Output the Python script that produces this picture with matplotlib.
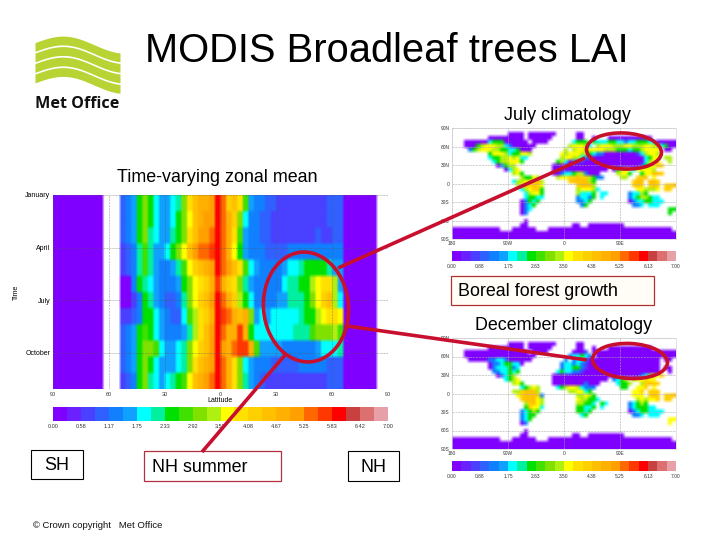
import numpy as np
import matplotlib
matplotlib.use('Agg')
import matplotlib.pyplot as plt
from matplotlib.colors import ListedColormap, BoundaryNorm
from matplotlib.patches import Ellipse, Rectangle

plt.rcParams['font.family'] = ['Liberation Sans', 'DejaVu Sans']

# colour scale of the LAI plots, 24 levels from 0 to 7
level_colors = ['#8000ff', '#6a20ff', '#4a40ff', '#3060ff', '#1080ff', '#10a0ff',
                '#00ffff', '#00f0a0', '#00e000', '#40e000', '#80e000', '#b0f010',
                '#ffff00', '#ffe000', '#ffd000', '#ffc000', '#ffb000', '#ffa000',
                '#ff6800', '#ff3800', '#ff0000', '#c84040', '#dc7070', '#e8a0a8']
level_codes = 'abcdefghijklmnopqrstuvwx'
big_ticks = ['0.00', '0.58', '1.17', '1.75', '2.33', '2.92', '3.50', '4.08', '4.67', '5.25', '5.83', '6.42', '7.00']
map_ticks = ['0.00', '0.88', '1.75', '2.63', '3.50', '4.38', '5.25', '6.13', '7.00']

months = ['January', 'April', 'July', 'October']
lat_ticks = [-90, -60, -30, 0, 30, 60, 90]
lat_labels = ['90', '60', '30', '0', '30', '60', '90']

# zonal mean, one string per month, 3 degree columns from 54S to 66N, coded with level_codes
zonal_rows = [
    'defikigffghknpqqrusopnjfeeddcccccccccddd',
    'defikigffgikmpqrrusqokgeeddccccccccccddd',
    'defikhgffhiknprrsusqnjfeeddccccccccdccdd',
    'cdehjhffgikmprsstusqmifeeeddddeeeeeeeeee',
    'cdehjhfeefhjmopqrusrpnjgfeeeefgghiiiihff',
    'aaeihgfeeefikmnoqtqonkhfeeeeeghhiilmnnlf',
    'aaceihfeddehkmoprusqoligeeeeffhhhikmoplg',
    'ccdeiigfeddgjlnoqutsqpqkfgfggggghiilmnnm',
    'defijigfeeefhlnprusqqtqiggggggghhhjkkklj',
    'defikkjgffghkmoprurqsttqjffffeeeeeefgggh',
    'defikigfffghknpqrusqnkgfeeedddddeeeeedddd',
    'cdeikhgfghijmpqrsusqnkhfedcccccccccccddd',
]

# July and December LAI maps, 4 px cells from 90N down to 90S, blank is ocean
july_map = [
    '',
    '              aaaa aaaaaaa     aa',
    '         aaaaaaaaa aaaaaa      aa  a   aaaaaaaaaaa',
    '   aaaaaagiiiaaaaaa aaaa      giii igggiiggeggiiiggaaaaaa',
    '   aaailmmmllgeaaaaaa        lmmmlg lmmmlllmmlllmmllgiaaa',
    '    eilmmmlliiggiaaa        l lmmlmmmmllliiigiilmmmm aa',
    '         immmlgiimml       mlmmmlligeeaaaaaaaacglmml',
    '         giillmlmgg        lmmllgecaaaaaaaaaaaaagimm ll',
    '          gillmmmi        ilgaeccaaaaaaaaaaaaaaaglmm  l',
    '           aeill         aaaaaaaaaaaaaaaaaaaaaaeimmpo',
    '             aglm        aaaaaaaaaaaaaa ailm gmmmml',
    '               lmi       aaeggilleaaa    lmmi  immppo',
    '                 liiml    lmmoopooliee    ll  oop m',
    '               gllmoopl      oppppli         opp ppo',
    '                lmoopom        opppl         opo opo oop',
    '                 glmooi        lmmmlg         mmlllm oo',
    '                  glmmi        lgggi gg     eggli',
    '                  giigg        eggei g      egilligg',
    '                 aeigi         eegi         aeggiiggg',
    '                 aegi           ei           eeg ggg',
    '                 aeg                                  ii',
    '                 ae                                   i',
    '',
    '                  a',
    '                 aa           aa  aaaaaaaaa',
    'aaaaaaaaaaaa   aaaaaa   aaaaaaaaaaaaaaaaaaaaaaaaaaaaaaa',
    'aaaaaaaaaaaaaaaaaaaaaaaaaaaaaaaaaaaaaaaaaaaaaaaaaaaaaaaa',
    'aaaaaaaaaaaaaaaaaaaaaaaaaaaaaaaaaaaaaaaaaaaaaaaaaaaaaaaa',
]
december_map = [
    '',
    '              aaaa aaaaaaa     aa',
    '         aaaaaaaaa aaaaaa      aa  a   aaaaaaaaaaa',
    '   aaaaaaaaaaaaaaaa aaaa      aaac aaaaaaaaaaaaaaaaaaaaa',
    '   aaaaaaaaaaaaaaaaaa        eggige aaaaaaaaaaaaaaaaaaaaa',
    '    aaaaaeeggeaaaaaa        e eggeaaaaaaaaaaaaaaaaaa aa',
    '         aeegiigga         eggegecaaaaaaaaaaaaaaaaaa',
    '         aegggieg          eggiiecaaaaaaaaaaaaaaaaaa aa',
    '          eeggigi         giggeecaaaaaaaaaaaaaaaaaaa  a',
    '           aegil         aaaaaaaaaaaaaaaaaaaaaaeglmmo',
    '             gilm        aaaaaaaaaaaaaa egil lmmomm',
    '               lmi       aaaaaaaaeaaa    giil  lopoo',
    '                 gilml    gilmmlgeee      ii  mmo m',
    '               llopppl       llmmgi          mmo ooo',
    '                mopppoe        llmli         mmm opo oop',
    '                 opppml        mlliig         lmlmmo oo',
    '                  lopml        lliig ig     egili',
    '                  iommg        iiggi g      egiiigg',
    '                 egili         iigi         aegiigggg',
    '                 egii           gi           eeg ggg',
    '                 egi                                  mm',
    '                 ae                                   m',
    '',
    '                  a',
    '                 aa           aa  aaaaaaaaa',
    'aaaaaaaaaaaa   aaaaaa   aaaaaaaaaaaaaaaaaaaaaaaaaaaaaaa',
    'aaaaaaaaaaaaaaaaaaaaaaaaaaaaaaaaaaaaaaaaaaaaaaaaaaaaaaaa',
    'aaaaaaaaaaaaaaaaaaaaaaaaaaaaaaaaaaaaaaaaaaaaaaaaaaaaaaaa',
]
map_lat_labels = ['90N', '60N', '30N', '0', '30S', '60S', '90S']
map_lon_labels = ['180', '90W', '0', '90E', '180']

W, H = 720, 540
RED = '#c8102e'
cmap = ListedColormap(level_colors)
cmap.set_bad('white')
norm = BoundaryNorm(np.linspace(0, 7, 25), 24)


def decode(rows, width):
    # letter -> middle of that colour level, blank -> nan
    out = np.full((len(rows), width), np.nan)
    for i, row in enumerate(rows):
        for j, ch in enumerate(row[:width]):
            if ch != ' ':
                out[i, j] = (level_codes.index(ch) + 0.5) * 7 / 24
    return out


def soft_image(ax, grid, extent, rep_y, rep_x):
    # the source is a blurry slide scan, so smooth the cell edges a little
    rgba = cmap(norm(np.ma.masked_invalid(grid)))
    rgba = np.repeat(np.repeat(rgba, rep_y, axis=0), rep_x, axis=1)
    ax.imshow(rgba, extent=extent, aspect='auto', interpolation='bilinear', origin='upper')


def px_axes(fig, x0, y0, x1, y1, **kw):
    return fig.add_axes([x0 / W, 1 - y1 / H, (x1 - x0) / W, (y1 - y0) / H], **kw)


def draw_colorbar(fig, x0, y0, x1, y1, labels, size):
    ax = px_axes(fig, x0, y0, x1, y1)
    ax.pcolormesh(np.linspace(0, 7, 25), [0, 1], ((np.arange(24) + 0.5) * 7 / 24)[None, :], cmap=cmap, norm=norm)
    ax.set_yticks([])
    ax.set_xticks(np.linspace(0, 7, len(labels)))
    ax.set_xticklabels(labels, fontsize=size, color='#333333')
    ax.tick_params(length=0, pad=2)
    for s in ax.spines.values():
        s.set_visible(False)


def draw_map(fig, y0, rows):
    ax = px_axes(fig, 452, y0, 676, y0 + 111)
    soft_image(ax, decode(rows, 56), (-180, 180, -90, 90), 1, 1)
    ax.set_xticks([-180, -90, 0, 90])
    ax.set_xticklabels(map_lon_labels[:4], fontsize=3.5, color='#333333')
    ax.set_yticks(lat_ticks[::-1])
    ax.set_yticklabels(map_lat_labels, fontsize=3.5, color='#333333')
    ax.tick_params(length=0, pad=1.5)
    ax.grid(color='#aaaaaa', linestyle='--', linewidth=0.4)
    for s in ax.spines.values():
        s.set_color('#cccccc')
        s.set_linewidth(0.4)
    draw_colorbar(fig, 452, y0 + 123, 676, y0 + 133, map_ticks, 3.5)


fig = plt.figure(figsize=(7.2, 5.4), dpi=100, facecolor='white')

# zonal mean panel
ax = px_axes(fig, 53, 195, 388, 389)
pad_left = np.r_[np.full(9, 0.1), np.full(3, np.nan)]
pad_right = np.r_[np.full(6, 0.1), np.full(2, np.nan)]
zonal = np.hstack([np.tile(pad_left, (12, 1)), decode([r[:40].ljust(40, 'd') for r in zonal_rows], 40), np.tile(pad_right, (12, 1))])
soft_image(ax, zonal, (-90, 90, 12, 0), 4, 2)
ax.set_xticks(lat_ticks)
ax.set_xticklabels(lat_labels, fontsize=4, color='#333333')
ax.set_yticks([0, 3.25, 6.5, 9.75])
ax.set_yticklabels(months, fontsize=5)
ax.tick_params(length=0, pad=2)
ax.grid(color='#555555', linestyle='--', linewidth=0.4, alpha=0.6)
ax.set_xlabel('Latitude', fontsize=5, labelpad=0)
ax.set_ylabel('Time', fontsize=5)
ax.yaxis.set_label_coords(-33 / 335, 0.5)
for s in ax.spines.values():
    s.set_visible(False)
draw_colorbar(fig, 53, 407, 388, 421, big_ticks, 4)

draw_map(fig, 128, july_map)
draw_map(fig, 338, december_map)

# overlay in pixel coordinates for title, logo, boxes and the red annotations
ov = fig.add_axes([0, 0, 1, 1], zorder=10)
ov.set_xlim(0, W)
ov.set_ylim(H, 0)
ov.axis('off')
ov.patch.set_alpha(0)

# logo
xs = np.linspace(35, 120, 120)
for i in range(4):
    mid = 47 + i * 10.5 - 7.5 * np.sin((xs - 35) / 85 * 2 * np.pi * 0.72) + 3 * (xs - 35) / 85
    ov.fill_between(xs, mid - 4.4, mid + 4.4, color='#b8d334', linewidth=0)
ov.text(35, 103.5, 'Met Office', fontsize=11.6, fontweight='bold', family=['Open Sans', 'DejaVu Sans'],
        ha='left', va='center', color='#111111')

ov.text(387, 51, 'MODIS Broadleaf trees LAI', fontsize=28.7, ha='center', va='center', color='black')
ov.text(567.5, 115, 'July climatology', fontsize=12.9, ha='center', va='center', color='black')
ov.text(563.5, 325, 'December climatology', fontsize=12.9, ha='center', va='center', color='black')
ov.text(217.5, 178, 'Time-varying zonal mean', fontsize=12.9, ha='center', va='center', color='black')
ov.text(33, 526, '© Crown copyright   Met Office', fontsize=6.8, ha='left', va='center', color='#111111')

# red annotations
ov.plot([338, 585], [268, 158], color=RED, linewidth=2.6, solid_capstyle='butt')
ov.plot([347, 587], [326, 360], color=RED, linewidth=2.6, solid_capstyle='butt')
ov.plot([285, 202], [355, 452], color=RED, linewidth=2.6, solid_capstyle='butt')
ov.add_patch(Ellipse((306, 307), 85, 110, angle=-5, fill=False, edgecolor=RED, linewidth=2.6))
ov.add_patch(Ellipse((624, 151), 75, 36, angle=3, fill=False, edgecolor=RED, linewidth=2.6))
ov.add_patch(Ellipse((630, 361), 75, 35, angle=3, fill=False, edgecolor=RED, linewidth=2.6))

# labelled boxes
ov.add_patch(Rectangle((451, 276), 203, 29, facecolor='#fffdf5', edgecolor='#b03030', linewidth=0.9))
ov.text(458, 292, 'Boreal forest growth', fontsize=12.9, ha='left', va='center', color='black')
ov.add_patch(Rectangle((144, 451), 137, 30, facecolor='white', edgecolor='#b03040', linewidth=0.9))
ov.text(152, 468, 'NH summer', fontsize=12.9, ha='left', va='center', color='black')
ov.add_patch(Rectangle((31, 450), 52, 29, facecolor='white', edgecolor='black', linewidth=0.8))
ov.text(57, 466, 'SH', fontsize=12.9, ha='center', va='center', color='black')
ov.add_patch(Rectangle((348, 451), 51, 30, facecolor='white', edgecolor='black', linewidth=0.8))
ov.text(373.5, 467, 'NH', fontsize=12.9, ha='center', va='center', color='black')

fig.savefig('out.png', dpi=100)
